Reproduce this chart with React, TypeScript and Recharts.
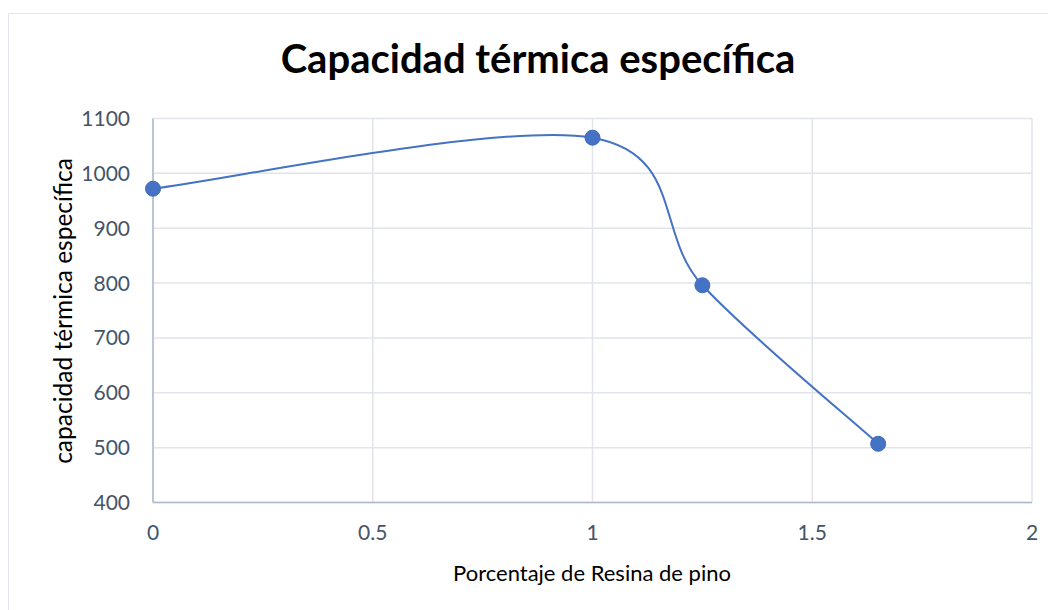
import React from "react";
import { LineChart, Line, XAxis, YAxis, CartesianGrid } from "recharts";

const resinPercent = [0, 1, 1.25, 1.65];
const heatCapacity = [972, 1065, 796, 507];
const xTicks = [0, 0.5, 1, 1.5, 2];
const yTicks = [400, 500, 600, 700, 800, 900, 1000, 1100];

const data = resinPercent.map((x, i) => ({ x, y: heatCapacity[i] }));

// Excel-like smoothed line (Catmull-Rom style Bezier)
function excelSmooth(context: any) {
  let pts: number[][] = [];
  return {
    areaStart() {},
    areaEnd() {},
    lineStart() {
      pts = [];
    },
    point(x: number, y: number) {
      pts.push([+x, +y]);
    },
    lineEnd() {
      const n = pts.length;
      if (n === 0) return;
      context.moveTo(pts[0][0], pts[0][1]);
      for (let i = 0; i < n - 1; i++) {
        const p0 = pts[Math.max(i - 1, 0)];
        const p1 = pts[i];
        const p2 = pts[i + 1];
        const p3 = pts[Math.min(i + 2, n - 1)];
        context.bezierCurveTo(
          p1[0] + (p2[0] - p0[0]) / 6,
          p1[1] + (p2[1] - p0[1]) / 6,
          p2[0] - (p3[0] - p1[0]) / 6,
          p2[1] - (p3[1] - p1[1]) / 6,
          p2[0],
          p2[1]
        );
      }
    },
  };
}

const FONT = "Lato, 'Open Sans', sans-serif";
const TICK_COLOR = "#44546A";

export default function App() {
  return (
    <div style={{ position: "relative", width: 1048, height: 602, fontFamily: FONT }}>
      <div
        style={{
          position: "absolute",
          left: 0,
          top: 5,
          width: 1060,
          height: 620,
          borderTop: "1.5px solid #E3E6EC",
          borderLeft: "1.5px solid #E3E6EC",
          boxSizing: "border-box",
        }}
      />
      <LineChart
        width={1048}
        height={602}
        data={data}
        margin={{ top: 110.5, right: 24, bottom: 57.5, left: 60 }}
      >
        <CartesianGrid stroke="#E1E4EA" strokeWidth={1.5} vertical={true} horizontal={true} />
        <XAxis
          dataKey="x"
          type="number"
          domain={[0, 2]}
          ticks={xTicks}
          tickLine={false}
          tickSize={0}
          tickMargin={23}
          axisLine={{ stroke: "#AEB8CC", strokeWidth: 1.5 }}
          tick={{ fill: TICK_COLOR, fontSize: 21, fontFamily: FONT }}
          height={50}
          interval={0}
        />
        <YAxis
          type="number"
          domain={[400, 1100]}
          ticks={yTicks}
          tickLine={false}
          tickSize={0}
          tickMargin={23}
          axisLine={{ stroke: "#AEB8CC", strokeWidth: 1.5 }}
          tick={{ fill: TICK_COLOR, fontSize: 21, fontFamily: FONT }}
          width={85}
          interval={0}
        />
        <Line
          dataKey="y"
          type={excelSmooth as any}
          stroke="#4472C4"
          strokeWidth={2}
          dot={{ r: 7.5, fill: "#4472C4", stroke: "#3F6AB8", strokeWidth: 1 }}
          isAnimationActive={false}
        />
      </LineChart>
      <div
        style={{
          position: "absolute",
          left: 230,
          top: 29.5,
          width: 600,
          textAlign: "center",
          fontSize: 40,
          lineHeight: "40px",
          fontWeight: 700,
          color: "#000",
          whiteSpace: "nowrap",
        }}
      >
        Capacidad térmica específica
      </div>
      <svg
        style={{ position: "absolute", left: 0, top: 0, pointerEvents: "none" }}
        width={1048}
        height={602}
      >
        <text
          x={54}
          y={303}
          transform="rotate(-90 54 303)"
          textAnchor="middle"
          dominantBaseline="central"
          fontSize={24.5}
          fontFamily={FONT}
          fill="#000"
        >
          capacidad térmica específica
        </text>
        <text
          x={584}
          y={564}
          textAnchor="middle"
          dominantBaseline="central"
          fontSize={22}
          fontFamily={FONT}
          fill="#000"
        >
          Porcentaje de Resina de pino
        </text>
      </svg>
    </div>
  );
}
